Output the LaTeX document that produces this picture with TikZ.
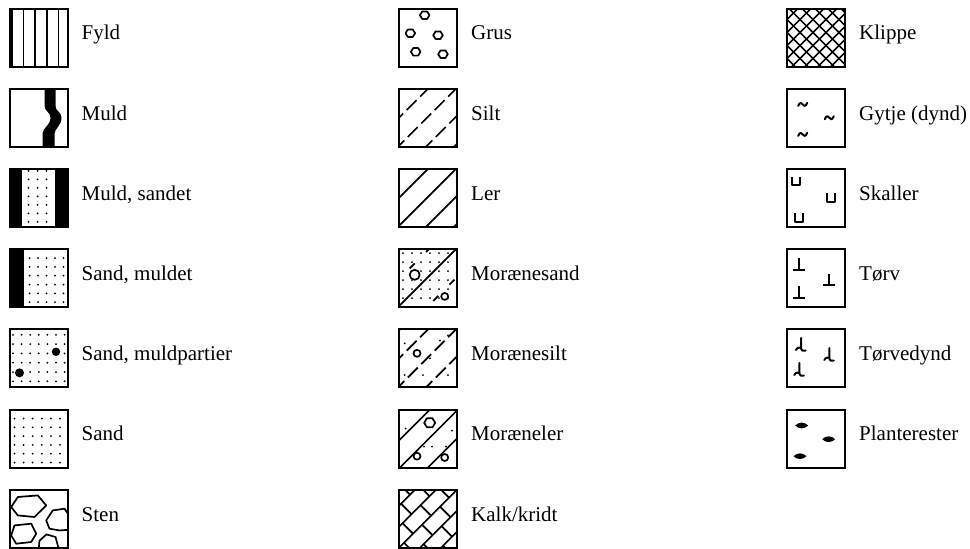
\documentclass[tikz,border=0pt]{standalone}
\usepackage{fontspec}
\setmainfont{Liberation Serif}
\usetikzlibrary{positioning}

% dot raster and small repeated marks
\newcommand\dotgrid[2]{\foreach \dx in {#1} \foreach \dy in {#2} {\fill (\dx,\dy) circle (1pt);}}
\newcommand\diagl[1]{\foreach \c in {#1} \draw ({\c+2},-2) -- (-2,{\c+2});}
% pattern inside a legend box, local frame 0..58, y down
\newcommand\inbox[2]{\begin{scope}[shift={(#1.north west)},shift={(1,1)},line width=1.7pt,line join=round]
  \clip (0,0) rectangle (58,58); #2\end{scope}}

\newcommand\fyldpat{\foreach \x in {2.5,14,25.5,37.5,49} \draw[line width=1.5pt] (\x,-2) -- (\x,60);}
\newcommand\muldpat{\fill (35,-2) -- (35,17) .. controls (35,23) and (41,23) .. (41,29) .. controls (41,37) and (33,39) .. (33,45) -- (33,60) -- (45,60) -- (45,45) .. controls (45,40) and (52,37) .. (52,29) .. controls (52,23) and (46,23) .. (46,17) -- (46,-2) -- cycle;}
\newcommand\muldsandpat{\dotgrid{19,28,37}{2,10.5,...,58}\fill (-2,-2) rectangle (12,60); \fill (45,-2) rectangle (60,60);}
\newcommand\sandmuldpat{\dotgrid{20,28.5,...,58}{9,17.8,...,58}\fill (-2,-2) rectangle (14,60);}
\newcommand\muldpartpat{\dotgrid{3.5,12.1,...,58}{5.5,14.8,...,58}\fill (46.5,22.5) circle (4.2pt); \fill (10,43.5) circle (4.5pt);}
\newcommand\sandpat{\dotgrid{5,14.1,...,58}{9,17.8,...,58}}
\newcommand\stenpat{%
  \draw (8.3,7.3) -- (28.3,5.7) -- (36.7,15.7) -- (25,27.3) -- (8.3,25.7) -- (1.7,17.3) -- cycle;
  \draw (43.3,20.7) -- (55,19) -- (62,29) -- (61,40) -- (50,40.7) -- (40,39) -- (36.7,30.7) -- cycle;
  \draw (5,35.7) -- (21.7,34) -- (26.7,44) -- (21.7,52.3) -- (6.7,54) -- (1.7,45.7) -- cycle;
  \draw (29,62) -- (30,51) -- (37,44.7) -- (46,47.3) -- (50,62);}
\newcommand\gruspat{\foreach \p in {(25.7,6.7),(11.3,24.7),(39,26.7),(16.7,43.3),(44,45.7)}
  \draw[shift={\p}] (-4.8,0) -- (-2.4,-3.8) -- (2.4,-3.8) -- (4.8,0) -- (2.4,3.8) -- (-2.4,3.8) -- cycle;}
\newcommand\siltpat{\foreach \c in {1,29,57,85,113} \draw[dash pattern=on 14pt off 5pt] ({\c+2},-2) -- (-2,{\c+2});}
\newcommand\lerpat{\diagl{1,29,57,85,113}}
\newcommand\msandpat{\dotgrid{4,13,...,58}{4,13,...,58}\diagl{1,57}
  \foreach \c in {30,86} \draw[dash pattern=on 7pt off 16pt] ({\c+2},-2) -- (-2,{\c+2});
  \draw[fill=white] (15.7,25.7) circle (5pt); \draw[fill=white] (45.7,47.3) circle (3.5pt);}
\newcommand\msiltpat{\foreach \c in {1,29,57,85} \draw[dash pattern=on 14pt off 5pt] ({\c+2},-2) -- (-2,{\c+2});
  \foreach \p in {(5.7,14),(41,11.3),(31,29),(49,6),(5.7,45.7),(24,45.7),(49,45.7)} \fill \p circle (1pt);
  \draw (18,24) circle (3.5pt);}
\newcommand\mlerpat{\diagl{1,31,59,87}
  \draw[shift={(30.7,13.3)}] (-5.5,0) -- (-2.8,-4.5) -- (2.8,-4.5) -- (5.5,0) -- (2.8,4.5) -- (-2.8,4.5) -- cycle;
  \draw (18,46.7) circle (3.5pt); \draw (45.7,48) circle (3.5pt);
  \foreach \p in {(6.7,19),(25,37),(33,37),(53,21),(47,37)} \fill \p circle (1pt);}
\newcommand\kalkpat{\diagl{-5,16,37,58,79,100}
  \foreach \k in {0,...,5} \foreach \j in {0,...,4} {
    \pgfmathsetmacro\ca{-5+21*\k}
    \pgfmathsetmacro\dd{-66+36*\j+18*mod(\k,2)}
    \draw ({(\ca+\dd)/2},{(\ca-\dd)/2}) -- ({(\ca+21+\dd)/2},{(\ca+21-\dd)/2});}}
\newcommand\klippepat{\diagl{-2,11,...,118}\foreach \d in {-63,-50,...,63} \draw ({\d-2},-2) -- ({\d+62},62);}
\newcommand\gytjepat{\foreach \p in {(15.7,15.7),(42.3,29),(15.7,45.7)}
  \draw[shift={\p},line width=2pt,line cap=round] (-4.5,1.5) .. controls (-3,-3) and (-0.5,-1.5) .. (0,0) .. controls (0.5,1.5) and (3,3) .. (4.5,-1.5);}
\newcommand\skallerpat{\foreach \p in {(9,12.3),(44,29),(12.3,49)}
  \draw[shift={\p},line width=2pt] (-4,-4.5) -- (-4,4) -- (4,4) -- (4,-4.5);}
\newcommand\torvpat{\foreach \p in {(11.7,15),(42.3,30.7),(11.7,43.3)}
  \draw[shift={\p},line width=2pt] (0,-6) -- (0,5.5) (-6,5.5) -- (6,5.5);}
\newcommand\torvdyndpat{\foreach \p in {(14,15.7),(42.3,25.7),(12.3,40.7)}
  {\draw[shift={\p},line width=2pt,line cap=round] (0,-7) -- (0,2.5) .. controls (0,5.5) and (2,6.5) .. (4.5,5.5);
   \draw[shift={\p},line width=2pt,line cap=round] (-5,5) .. controls (-3,1) and (-1.5,4) .. (0,2.5);}}
\newcommand\plantepat{\foreach \p in {(14.7,16),(41.7,29.7),(13,46.7)}
  \fill[shift={\p}] (-6.5,0) .. controls (-3,-3.8) and (3,-3.8) .. (6.5,0) .. controls (3,3.8) and (-3,3.8) .. (-6.5,0);}

\begin{document}
\begin{tikzpicture}[
  x=1pt,y=-1pt,
  node distance=20.2pt and 13pt,
  box/.style={draw,line width=2pt,minimum size=58pt,inner sep=0pt},
  lbl/.style={font=\fontsize{21}{25}\selectfont,inner sep=0pt,text height=0.68em,text depth=0.2em}
]
  \useasboundingbox (0,0) rectangle (970,549);

  % first column
  \node[box] (fyld) at (38.5,37.5) {};
  \node[box,below=of fyld] (muld) {};
  \node[box,below=of muld] (muldsand) {};
  \node[box,below=of muldsand] (sandmuld) {};
  \node[box,below=of sandmuld] (muldpart) {};
  \node[box,below=of muldpart] (sand) {};
  \node[box,below=of sand] (sten) {};
  \inbox{fyld}{\fyldpat}
  \inbox{muld}{\muldpat}
  \inbox{muldsand}{\muldsandpat}
  \inbox{sandmuld}{\sandmuldpat}
  \inbox{muldpart}{\muldpartpat}
  \inbox{sand}{\sandpat}
  \inbox{sten}{\stenpat}

  \node[lbl,right=of fyld] (fyld txt) {Fyld};
  \node[lbl,right=of muld] (muld txt) {Muld};
  \node[lbl,right=of muldsand] (muldsand txt) {Muld, sandet};
  \node[lbl,right=of sandmuld] (sandmuld txt) {Sand, muldet};
  \node[lbl,right=of muldpart] (muldpart txt) {Sand, muldpartier};
  \node[lbl,right=of sand] (sand txt) {Sand};
  \node[lbl,right=of sten] (sten txt) {Sten};

  % second column
  \node[box] (grus) at (428,37.5) {};
  \node[box,below=of grus] (silt) {};
  \node[box,below=of silt] (ler) {};
  \node[box,below=of ler] (msand) {};
  \node[box,below=of msand] (msilt) {};
  \node[box,below=of msilt] (mler) {};
  \node[box,below=of mler] (kalk) {};
  \inbox{grus}{\gruspat}
  \inbox{silt}{\siltpat}
  \inbox{ler}{\lerpat}
  \inbox{msand}{\msandpat}
  \inbox{msilt}{\msiltpat}
  \inbox{mler}{\mlerpat}
  \inbox{kalk}{\kalkpat}

  \node[lbl,right=of grus] (grus txt) {Grus};
  \node[lbl,right=of silt] (silt txt) {Silt};
  \node[lbl,right=of ler] (ler txt) {Ler};
  \node[lbl,right=of msand] (msand txt) {Morænesand};
  \node[lbl,right=of msilt] (msilt txt) {Morænesilt};
  \node[lbl,right=of mler] (mler txt) {Moræneler};
  \node[lbl,right=of kalk] (kalk txt) {Kalk/kridt};

  % third column
  \node[box] (klippe) at (816,37.5) {};
  \node[box,below=of klippe] (gytje) {};
  \node[box,below=of gytje] (skaller) {};
  \node[box,below=of skaller] (torv) {};
  \node[box,below=of torv] (torvdynd) {};
  \node[box,below=of torvdynd] (plante) {};
  \inbox{klippe}{\klippepat}
  \inbox{gytje}{\gytjepat}
  \inbox{skaller}{\skallerpat}
  \inbox{torv}{\torvpat}
  \inbox{torvdynd}{\torvdyndpat}
  \inbox{plante}{\plantepat}

  \node[lbl,right=of klippe] (klippe txt) {Klippe};
  \node[lbl,right=of gytje] (gytje txt) {Gytje (dynd)};
  \node[lbl,right=of skaller] (skaller txt) {Skaller};
  \node[lbl,right=of torv] (torv txt) {Tørv};
  \node[lbl,right=of torvdynd] (torvdynd txt) {Tørvedynd};
  \node[lbl,right=of plante] (plante txt) {Planterester};
\end{tikzpicture}
\end{document}
